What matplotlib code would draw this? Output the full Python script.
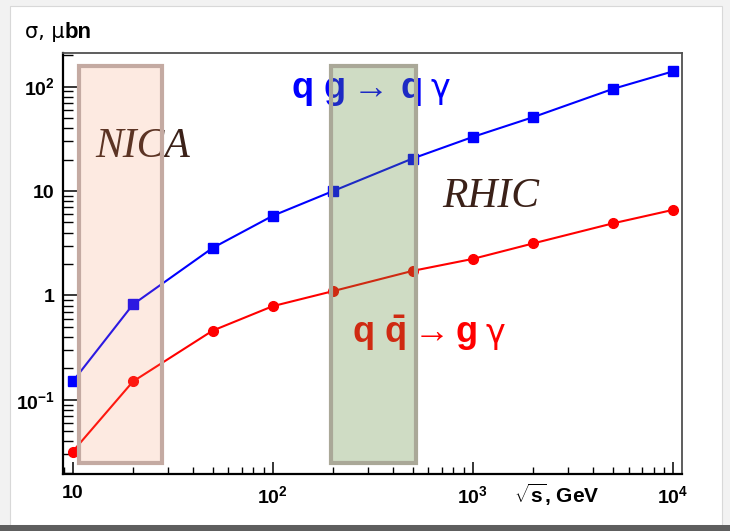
import numpy as np
import matplotlib
matplotlib.use("Agg")
import matplotlib.pyplot as plt
from matplotlib.patches import Rectangle
from matplotlib.ticker import FixedLocator, FixedFormatter, LogLocator, NullFormatter

# ---- data ----
energy = [10, 20, 50, 100, 200, 500, 1000, 2000, 5000, 10000]
sigma_qg = [0.15, 0.82, 2.85, 5.8, 10.0, 20.5, 33.0, 51.0, 95.0, 140.0]
sigma_qqbar = [0.032, 0.15, 0.46, 0.79, 1.1, 1.72, 2.24, 3.15, 4.9, 6.6]
nica_range = [10.7, 28.0]
rhic_range = [196.0, 522.0]
band_y = [0.025, 158.0]
xticks = [10, 100, 1000, 10000]
xticklabels = ["10", r"10$^{2}$", r"10$^{3}$", r"10$^{4}$"]
yticks = [0.1, 1, 10, 100]
yticklabels = [r"10$^{-1}$", "1", "10", r"10$^{2}$"]

plt.rcParams['font.family'] = ['Liberation Sans', 'DejaVu Sans']
plt.rcParams['font.weight'] = 'bold'
plt.rcParams['mathtext.fontset'] = 'custom'
plt.rcParams['mathtext.rm'] = 'Liberation Sans:bold'
plt.rcParams['mathtext.bf'] = 'Liberation Sans:bold'
plt.rcParams['mathtext.it'] = 'Liberation Sans:bold'

fig = plt.figure(figsize=(7.30, 5.31), dpi=100)
fig.patch.set_facecolor('#f2f2f2')
# card background and shadow
fig.patches.append(Rectangle((10/730, 6/531), 712/730, 519/531, transform=fig.transFigure,
                             facecolor='white', edgecolor='#d8d8d8', lw=0.8, zorder=-10))
fig.patches.append(Rectangle((0, 0), 1, 6/531, transform=fig.transFigure,
                             facecolor='#5e5e5e', edgecolor='none', zorder=-10))

ax = fig.add_axes([63/730, 57/531, 619/730, 421/531])
ax.set_zorder(5)
ax.set_facecolor('none')
ax.set_xscale('log')
ax.set_yscale('log')
ax.set_xlim(8.94, 11100)
ax.set_ylim(0.0195, 210)

ax.plot(energy, sigma_qg, color='#0000ff', lw=1.5, marker='s', ms=6.5, zorder=3)
ax.plot(energy, sigma_qqbar, color='#ff0000', lw=1.5, marker='o', ms=7, zorder=3)

# shaded bands drawn on top (translucent)
ax.add_patch(Rectangle((nica_range[0], band_y[0]), nica_range[1]-nica_range[0], band_y[1]-band_y[0],
                       facecolor=(0.96, 0.55, 0.36, 0.18), edgecolor='#c4aaa2', lw=3.0, zorder=4))
ax.add_patch(Rectangle((rhic_range[0], band_y[0]), rhic_range[1]-rhic_range[0], band_y[1]-band_y[0],
                       facecolor=(0.39, 0.55, 0.24, 0.30), edgecolor='#aaa898', lw=3.0, zorder=4))

# axes style
for s in ['left', 'bottom']:
    ax.spines[s].set_linewidth(1.6)
    ax.spines[s].set_color('black')
for s in ['top', 'right']:
    ax.spines[s].set_linewidth(1.3)
    ax.spines[s].set_color('#505050')

ax.xaxis.set_major_locator(FixedLocator(xticks))
ax.xaxis.set_major_formatter(FixedFormatter(xticklabels))
ax.yaxis.set_major_locator(FixedLocator(yticks))
ax.yaxis.set_major_formatter(FixedFormatter(yticklabels))
ax.xaxis.set_minor_locator(LogLocator(base=10, subs=np.arange(2, 10)))
ax.yaxis.set_minor_locator(LogLocator(base=10, subs=np.arange(2, 10)))
ax.xaxis.set_minor_formatter(NullFormatter())
ax.yaxis.set_minor_formatter(NullFormatter())
ax.tick_params(axis='x', which='major', direction='in', length=9, width=1.1, pad=8,
               labelsize=14, top=False)
ax.tick_params(axis='x', which='minor', direction='in', length=5, width=1.0, top=False)
ax.tick_params(axis='y', which='major', direction='in', length=13, width=1.1, pad=6,
               labelsize=14, right=False)
ax.tick_params(axis='y', which='minor', direction='in', length=7, width=1.0, right=False)

# axis titles
t1 = fig.text(25/730, 1 - 32/531, "σ, μ", fontsize=15, fontweight='normal',
              va='center', ha='left', family='DejaVu Sans')
fig.text(600/730, 1 - 495/531, r"$\sqrt{\mathrm{s}}$, GeV", fontsize=15, fontweight='bold',
         va='center', ha='right')

# annotations
ax.text(0.052, 0.753, "NICA", transform=ax.transAxes, fontsize=30, style='italic', fontweight='normal',
        family='Liberation Serif', color='#3b2118', va='baseline', ha='left', zorder=2)
ax.text(0.613, 0.634, "RHIC", transform=ax.transAxes, fontsize=30, style='italic', fontweight='normal',
        family='Liberation Serif', color='#3b2118', va='baseline', ha='left', zorder=2)
tb = ax.text(0.369, 0.893, r"$\mathrm{q}\ \mathrm{g}\rightarrow\,\mathrm{q}$",
             transform=ax.transAxes, fontsize=26, color='#0000ff', va='baseline', ha='left', zorder=2)
tr = ax.text(0.467, 0.311, r"$\mathrm{q}\ \bar{\mathrm{q}}\rightarrow\mathrm{g}$",
             transform=ax.transAxes, fontsize=26, color='#ff0000', va='baseline', ha='left', zorder=2)

fig.canvas.draw()
r = fig.canvas.get_renderer()
inv = ax.transAxes.inverted()
for t, col, yb in [(tb, '#0000ff', 0.893), (tr, '#ff0000', 0.311)]:
    bb = t.get_window_extent(r)
    xa = inv.transform((bb.x1 + 8, 0))[0]
    ax.text(xa, yb, "γ", transform=ax.transAxes, fontsize=24, fontweight='normal',
            family='DejaVu Sans', color=col, va='baseline', ha='left', zorder=2)
bb = t1.get_window_extent(r)
fig.text(bb.x1 / fig.bbox.width, 1 - 32/531, "bn", fontsize=16, fontweight='bold',
         va='center', ha='left')

fig.savefig("out.png", dpi=100)
